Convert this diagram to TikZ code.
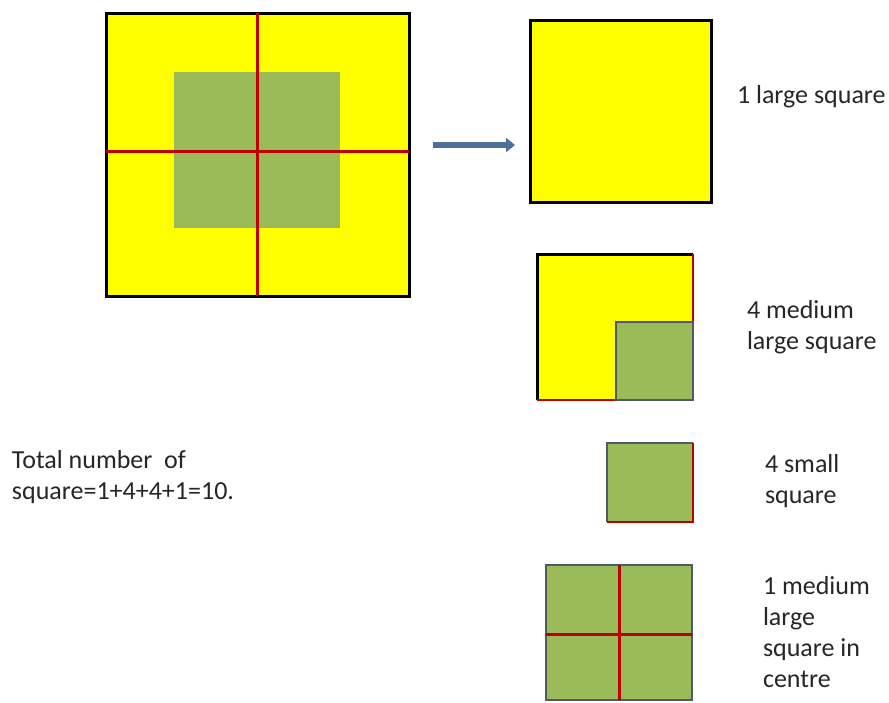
\documentclass[tikz,border=0pt]{standalone}
\usepackage{fontspec}
\setmainfont{Carlito}
\usepackage{tikz}
\usetikzlibrary{arrows.meta,positioning,calc}
\definecolor{sqyellow}{HTML}{FFFF00}
\definecolor{sqgreen}{HTML}{9BBB59}
\definecolor{cutred}{HTML}{C00000}
\definecolor{edgegray}{HTML}{4D5B62}
\definecolor{arrowblue}{HTML}{4F6E9A}
\definecolor{txt}{HTML}{262626}
\begin{document}
\begin{tikzpicture}[x=1pt,y=-1pt,every node/.style={inner sep=0pt,outer sep=0pt},yellowsq/.style={fill=sqyellow,draw=black,line width=3pt},greensq/.style={fill=sqgreen,draw=edgegray,line width=2.5pt},cut/.style={cutred,line width=3pt},lbl/.style={font=\fontsize{26}{31}\selectfont,text=txt,align=left,anchor=west}]
\useasboundingbox (0,0) rectangle (889,702);
% whole figure
\node[yellowsq,minimum width=303pt,minimum height=283pt] (big) at (257.5,154.5) {};
\fill[sqgreen] (174,72) rectangle (340,228);
\coordinate (mid) at (257,151);
\draw[cut] (mid |- big.north) -- (mid |- big.south);
\draw[cut] (mid -| big.west) -- (mid -| big.east);
% arrow
\coordinate (arrS) at (433,145);
\coordinate (arrE) at (515,145);
\draw[-{Triangle[length=9pt,width=14pt]},arrowblue,line width=6pt] (arrS) -- (arrE);
% 1 large square
\node[yellowsq,minimum width=181pt,minimum height=182pt] (one) at (620.5,111) {};
\node[lbl] (lblone) at (737,97) {1 large square};
% 4 medium large squares
\fill[sqyellow] (537,254) rectangle (693,400);
\draw[black,line width=3pt] (537,400) -- (537,254) -- (693,254);
\draw[cutred,line width=2.5pt] (693,254) -- (693,322);
\draw[cutred,line width=2.5pt] (537,400) -- (616,400);
\node[greensq,minimum width=77pt,minimum height=78pt] (corner) at (654.5,361) {};
\node[lbl] (lblmed) at (747,327) {4 medium\\large square};
% 4 small squares
\node[fill=sqgreen,minimum width=86pt,minimum height=79pt] (small) at (650,482.5) {};
\draw[edgegray,line width=2.5pt] (small.south west) -- (small.north west) -- (small.north east);
\draw[cutred,line width=2.5pt] (small.north east) -- (small.south east) -- (small.south west);
\node[lbl] (lblsmall) at (765,481) {4 small\\square};
% centre square
\node[greensq,minimum width=146pt,minimum height=135pt] (centre) at (619,632.5) {};
\coordinate (cmid) at (619,634);
\draw[cut] (cmid |- centre.north) -- (cmid |- centre.south);
\draw[cut] (cmid -| centre.west) -- (cmid -| centre.east);
\node[lbl] (lblcentre) at (763,632) {1 medium\\large\\square in\\centre};
% total
\node[lbl] (total) at (12,477) {Total number~ of\\square=1+4+4+1=10.};
\end{tikzpicture}
\end{document}
